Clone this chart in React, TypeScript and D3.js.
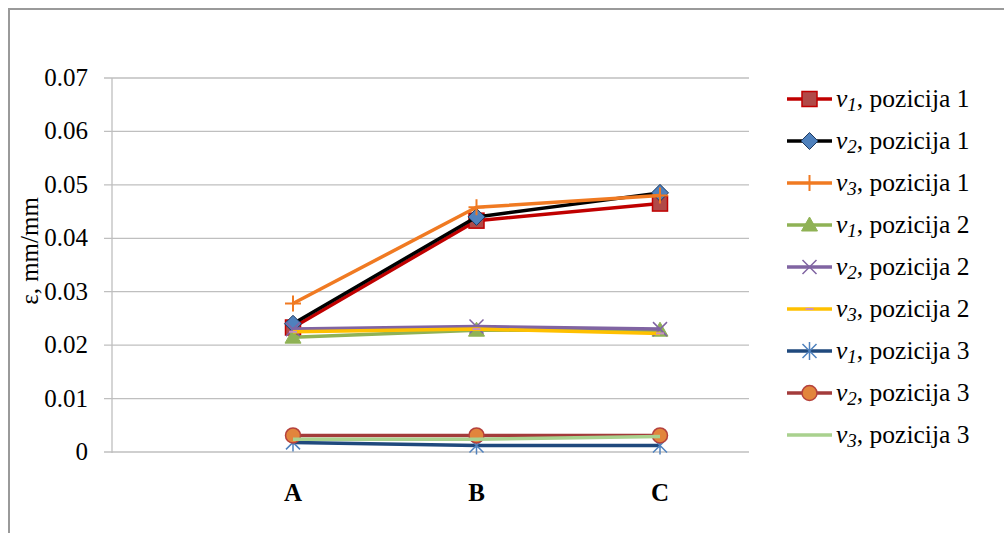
import React from "react";
import * as d3 from "d3";

const categories = ["A", "B", "C"];
const yTicks = [0, 0.01, 0.02, 0.03, 0.04, 0.05, 0.06, 0.07];

const v1p1 = [0.0233, 0.0433, 0.0465];
const v2p1 = [0.0240, 0.0440, 0.0485];
const v3p1 = [0.0278, 0.0458, 0.0480];
const v1p2 = [0.0215, 0.0228, 0.0228];
const v2p2 = [0.0230, 0.0235, 0.0230];
const v3p2 = [0.0225, 0.0230, 0.0222];
const v1p3 = [0.0018, 0.0012, 0.0012];
const v2p3 = [0.0031, 0.0031, 0.0031];
const v3p3 = [0.0024, 0.0024, 0.0029];

const seriesNames = ["1", "2", "3", "1", "2", "3", "1", "2", "3"];
const seriesPos = ["1", "1", "1", "2", "2", "2", "3", "3", "3"];

type Marker = "square" | "diamond" | "plus" | "triangle" | "x" | "dash" | "asterisk" | "circle" | "none";

const series: { values: number[]; line: string; fill: string; stroke: string; marker: Marker }[] = [
  { values: v1p1, line: "#C00000", fill: "#B04A48", stroke: "#C00000", marker: "square" },
  { values: v2p1, line: "#000000", fill: "#4F81BD", stroke: "#1F3A60", marker: "diamond" },
  { values: v3p1, line: "#F07A22", fill: "#F07A22", stroke: "#F07A22", marker: "plus" },
  { values: v1p2, line: "#8FB255", fill: "#8FB255", stroke: "#8FB255", marker: "triangle" },
  { values: v2p2, line: "#8064A2", fill: "#8064A2", stroke: "#8064A2", marker: "x" },
  { values: v3p2, line: "#FFC000", fill: "#C890C0", stroke: "#C890C0", marker: "dash" },
  { values: v1p3, line: "#1F497D", fill: "#4F81BD", stroke: "#4F81BD", marker: "asterisk" },
  { values: v2p3, line: "#A33B3B", fill: "#E2853D", stroke: "#B5413C", marker: "circle" },
  { values: v3p3, line: "#A9D18E", fill: "#A9D18E", stroke: "#A9D18E", marker: "none" },
];

const FONT = "Liberation Serif, Times New Roman, Times, DejaVu Serif, serif";
const textStyle = { fontFamily: FONT };

function MarkerShape({ type, x, y, fill, stroke }: { type: Marker; x: number; y: number; fill: string; stroke: string }) {
  const s = 7.5;
  switch (type) {
    case "square":
      return <rect x={x - s} y={y - s} width={2 * s} height={2 * s} fill={fill} stroke={stroke} strokeWidth={1.5} />;
    case "diamond":
      return <path d={`M${x},${y - 8.5}L${x + 8.5},${y}L${x},${y + 8.5}L${x - 8.5},${y}Z`} fill={fill} stroke={stroke} strokeWidth={1} />;
    case "plus":
      return <path d={`M${x - 8},${y}H${x + 8}M${x},${y - 8}V${y + 8}`} stroke={stroke} strokeWidth={2} fill="none" />;
    case "triangle":
      return <path d={`M${x},${y - 8}L${x + 8},${y + 6}L${x - 8},${y + 6}Z`} fill={fill} stroke={stroke} strokeWidth={1} />;
    case "x":
      return <path d={`M${x - 7},${y - 7}L${x + 7},${y + 7}M${x + 7},${y - 7}L${x - 7},${y + 7}`} stroke={stroke} strokeWidth={1.5} fill="none" />;
    case "dash":
      return <path d={`M${x - 4},${y}H${x + 4}`} stroke={stroke} strokeWidth={2} fill="none" />;
    case "asterisk":
      return (
        <path
          d={`M${x - 7},${y - 7}L${x + 7},${y + 7}M${x + 7},${y - 7}L${x - 7},${y + 7}M${x},${y - 9}V${y + 9}`}
          stroke={stroke}
          strokeWidth={1.5}
          fill="none"
        />
      );
    case "circle":
      return <circle cx={x} cy={y} r={7.5} fill={fill} stroke={stroke} strokeWidth={1.5} />;
    default:
      return null;
  }
}

export default function App() {
  const W = 1004;
  const H = 533;
  const plotLeft = 112;
  const plotRight = 749;
  const y = d3.scaleLinear().domain([0, 0.07]).range([452, 78]);
  const x = d3.scalePoint<string>().domain(categories).range([293, 660]);
  const line = d3
    .line<number>()
    .x((_, i) => x(categories[i]) as number)
    .y((d) => y(d));

  const legendX = 787;
  const legendY0 = 99;
  const legendStep = 42;

  return (
    <svg width={W} height={H} style={{ position: "absolute", left: 0, top: 0, fontFamily: FONT }}>
      <rect x={0} y={0} width={W} height={H} fill="#ffffff" />
      <path d={`M9,${H}V9H${W}`} fill="none" stroke="#9a9a9a" strokeWidth={2} />

      {/* gridlines */}
      {yTicks.map((t) => (
        <g key={t}>
          <line x1={plotLeft - 8} x2={plotRight} y1={y(t)} y2={y(t)} stroke="#BFBFBF" strokeWidth={1.3} />
          <text x={88} y={y(t) + 8} textAnchor="end" fontSize={25} fill="#000" style={textStyle}>
            {t === 0 ? "0" : t.toFixed(2)}
          </text>
        </g>
      ))}
      <line x1={plotLeft} x2={plotLeft} y1={y(0.07)} y2={y(0) + 1} stroke="#BFBFBF" strokeWidth={1.3} />

      {/* category labels */}
      {categories.map((c) => (
        <text key={c} x={x(c)} y={501} textAnchor="middle" fontSize={25} fontWeight="bold" fill="#000" style={textStyle}>
          {c}
        </text>
      ))}

      {/* y-axis title */}
      <text transform={`translate(38,251) rotate(-90)`} textAnchor="middle" fontSize={25} fill="#000" style={textStyle}>
        ε, mm/mm
      </text>

      {/* series */}
      {series.map((s, i) => (
        <g key={i}>
          <path d={line(s.values) || ""} fill="none" stroke={s.line} strokeWidth={3.5} strokeLinejoin="round" />
          {s.values.map((v, j) => (
            <MarkerShape key={j} type={s.marker} x={x(categories[j]) as number} y={y(v)} fill={s.fill} stroke={s.stroke} />
          ))}
        </g>
      ))}

      {/* legend */}
      {series.map((s, i) => {
        const ly = legendY0 + i * legendStep;
        return (
          <g key={i}>
            <line x1={legendX} x2={legendX + 45} y1={ly} y2={ly} stroke={s.line} strokeWidth={3.5} />
            <MarkerShape type={s.marker} x={legendX + 22.5} y={ly} fill={s.fill} stroke={s.stroke} />
            <text x={836} y={ly + 8} fontSize={25.5} fill="#000" style={textStyle}>
              <tspan fontStyle="italic">v</tspan>
              <tspan fontStyle="italic" fontSize={19} dy={4}>
                {seriesNames[i]}
              </tspan>
              <tspan dy={-4}>{`, pozicija ${seriesPos[i]}`}</tspan>
            </text>
          </g>
        );
      })}
    </svg>
  );
}
